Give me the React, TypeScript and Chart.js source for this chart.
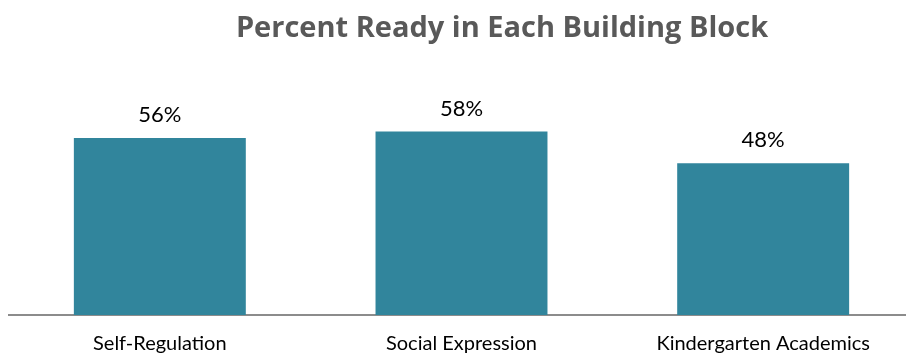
import React, { useEffect, useRef } from "react";
import { Chart, registerables } from "chart.js";

Chart.register(...registerables);

const categories = ["Self-Regulation", "Social Expression", "Kindergarten Academics"];
const percentReady = [56, 58, 48];
const titleText = "Percent Ready in Each Building Block";

const FONT = "Lato, 'Noto Sans', sans-serif";
const TITLE_FONT = "'Open Sans', Lato, sans-serif";

const overlayPlugin = {
  id: "overlayText",
  afterDatasetsDraw(chart: any) {
    const ctx = chart.ctx;
    ctx.save();
    // title
    ctx.font = `bold 29px ${TITLE_FONT}`;
    ctx.fillStyle = "#595959";
    ctx.textAlign = "center";
    ctx.textBaseline = "alphabetic";
    ctx.fillText(titleText, 502, 37);
    // data labels
    const meta = chart.getDatasetMeta(0);
    ctx.font = `22px ${FONT}`;
    ctx.fillStyle = "#000000";
    ctx.textBaseline = "alphabetic";
    meta.data.forEach((bar: any, i: number) => {
      ctx.fillText(percentReady[i] + "%", bar.x, bar.y - 16);
    });
    ctx.restore();
  },
};

export default function App() {
  const ref = useRef<HTMLCanvasElement>(null);
  useEffect(() => {
    if (!ref.current) return;
    const chart = new Chart(ref.current, {
      type: "bar",
      data: {
        labels: categories,
        datasets: [
          {
            data: percentReady,
            backgroundColor: "#31859C",
            barPercentage: 0.57,
            categoryPercentage: 1,
          },
        ],
      },
      options: {
        responsive: false,
        animation: false,
        devicePixelRatio: 1,
        layout: { padding: { top: 62, left: 9, right: 0, bottom: 0 } },
        plugins: {
          legend: { display: false },
          tooltip: { enabled: false },
          title: { display: false },
        },
        scales: {
          x: {
            grid: { display: false, drawTicks: false },
            border: { display: true, color: "#8c8c8c", width: 2 },
            ticks: {
              color: "#000000",
              font: { family: FONT, size: 20 },
              padding: 17,
              maxRotation: 0,
              autoSkip: false,
            },
            afterFit: (axis: any) => {
              axis.height = 40;
            },
          },
          y: {
            display: false,
            min: 0,
            max: 80,
          },
        },
      },
      plugins: [overlayPlugin],
    });
    return () => chart.destroy();
  }, []);
  return (
    <div
      style={{
        position: "fixed",
        left: 0,
        top: 0,
        width: 906,
        height: 355,
        overflow: "hidden",
        background: "#ffffff",
      }}
    >
      <canvas ref={ref} width={914} height={355} style={{ display: "block" }} />
    </div>
  );
}
